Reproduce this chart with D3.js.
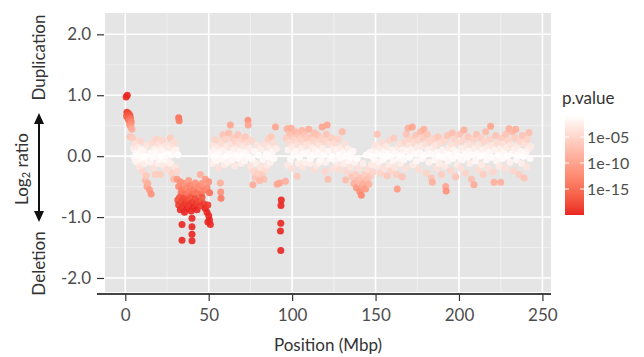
<!DOCTYPE html>
<html>
<head>
<meta charset="utf-8">
<script src="https://cdn.jsdelivr.net/npm/d3@7"></script>
<style>
  body { margin: 0; background: #fff; }
  text { font-family: Lato, "Open Sans", sans-serif; }
</style>
</head>
<body>
<div id="chart"></div>
<script>
// probes: [position (Mbp), log2 ratio, -log10 p.value]
var pArm = [
  [0.5, 0.97, 20], [1.2, 1.00, 20], [1.0, 0.72, 19], [2.0, 0.70, 18], [0.8, 0.66, 17],
  [2.8, 0.67, 17], [1.6, 0.62, 16], [3.2, 0.62, 15], [2.2, 0.58, 14], [3.6, 0.56, 13],
  [2.6, 0.52, 12], [3.4, 0.48, 11], [4.0, 0.44, 9], [3.0, 0.32, 7], [4.4, 0.30, 6]
];
var pArm2 = [
  [5, 0.12, 2.5], [5.5, -0.02, 1], [6, 0.20, 4], [6.2, -0.08, 1.6], [6.5, 0.05, 1.2], [7, -0.10, 2],
  [7.5, 0.15, 3], [8, 0.02, 0.9], [8.5, -0.18, 3.5], [9, 0.25, 5], [9.2, 0.12, 2.5], [9.5, 0.08, 1.6],
  [10, -0.05, 1.2], [10.5, -0.25, 5], [11, 0.10, 2], [11.2, -0.02, 0.9], [11.5, -0.12, 2.5], [12, 0.00, 0.8],
  [12, -0.40, 8], [12.5, -0.32, 6.5], [13, 0.18, 3.5], [13, -0.50, 10], [13.5, -0.45, 9], [14, -0.08, 1.6],
  [14.5, -0.55, 11], [15, 0.05, 1.2], [15.2, -0.10, 2], [15.5, -0.62, 12], [16, 0.22, 4.5], [16.5, -0.02, 0.9],
  [17, -0.20, 4], [17.5, 0.12, 2.5], [18, -0.30, 6], [18.2, 0.08, 1.6], [18.5, 0.28, 5.5], [19, 0.04, 1.1],
  [19.5, -0.12, 2.5], [20, 0.20, 4], [20.5, -0.05, 1.2], [21, -0.30, 6], [21.2, 0.14, 2.8], [21.5, 0.10, 2],
  [22, 0.00, 0.8], [22.5, 0.26, 5], [23, -0.15, 3], [23.5, 0.08, 1.6], [24, -0.06, 1.3], [24.2, 0.02, 0.9],
  [24.5, 0.18, 3.5], [25, -0.22, 4.5], [25.5, 0.04, 1.1], [26, 0.14, 2.8], [26.5, -0.10, 2], [27, 0.30, 6],
  [27.2, -0.12, 2.5], [27.5, 0.02, 0.9], [28, -0.28, 5.5], [28.5, 0.18, 3.5], [29, -0.38, 7.5], [29.2, 0.22, 4.5],
  [29.5, 0.08, 1.6], [30, -0.18, 3.5], [30.5, 0.10, 2], [31, -0.25, 5], [31.5, 0.02, 0.9],
  [32, 0.63, 15], [32.3, 0.58, 14]
];
var deletion = [
  [31, -0.38, 11], [32, -0.50, 13], [33, -0.42, 12], [33.5, -0.60, 15], [34, -0.55, 14], [35, -0.45, 12],
  [36, -0.62, 15], [37, -0.52, 13], [38, -0.40, 11], [38.5, -0.58, 14], [39, -0.48, 13], [40, -0.62, 15],
  [41, -0.55, 14], [42, -0.44, 12], [43, -0.60, 15], [44, -0.50, 13], [45, -0.30, 9], [45.5, -0.62, 15],
  [46, -0.45, 12], [47, -0.56, 14], [48, -0.38, 11], [49, -0.52, 13], [50, -0.42, 12], [50.5, -0.60, 15],
  [31.5, -0.72, 18], [32, -0.80, 19], [32.5, -0.68, 17], [33, -0.88, 20], [34, -0.74, 18], [34.5, -0.82, 19],
  [35, -0.70, 18], [35.5, -0.92, 20], [36, -0.78, 19], [37, -0.86, 20], [37.5, -0.72, 18], [38, -0.80, 19],
  [39, -0.68, 17], [39.5, -0.90, 20], [40, -0.76, 19], [41, -0.84, 20], [42, -0.70, 18], [42.5, -0.78, 19],
  [43, -0.88, 20], [44, -0.74, 18], [45, -0.82, 19], [46, -0.68, 17], [47, -0.78, 19], [48, -0.86, 20],
  [49, -0.92, 20], [49.5, -0.80, 19], [50, -0.98, 20], [50.5, -1.05, 20], [51, -1.12, 20], [49.5, -1.08, 20],
  [34, -1.12, 20], [34, -1.38, 20], [40, -1.02, 20], [40, -1.16, 20], [40, -1.28, 20], [40, -1.39, 20]
];
var qArm1 = [
  [51.5, 0.05, 1.2], [52, -0.12, 2.5], [52.5, 0.18, 3.5], [53, -0.02, 0.9], [53.5, 0.10, 2], [54, 0.27, 5.5],
  [54.5, -0.08, 1.6], [55, 0.02, 0.9], [55.5, 0.15, 3], [56, -0.20, 4], [56.5, 0.06, 1.3], [57, -0.44, 9],
  [57.2, -0.59, 12], [57.4, -0.69, 14], [57.5, 0.22, 4.5], [58, -0.05, 1.2], [58.5, 0.35, 7], [59, 0.10, 2],
  [59.5, -0.14, 2.8], [60, 0.28, 5.5], [60.5, 0.00, 0.8], [61, 0.16, 3], [61.5, -0.10, 2], [62, 0.38, 7.5],
  [62.5, 0.04, 1.1], [63, 0.51, 10], [63.5, 0.20, 4], [64, -0.06, 1.3], [64.5, 0.30, 6], [65, 0.10, 2],
  [65.5, -0.16, 3], [66, 0.24, 5], [66.5, 0.02, 0.9], [67, 0.14, 2.8], [67.5, 0.35, 7], [68, -0.04, 1.1],
  [68.5, 0.20, 4], [69, 0.08, 1.6], [69.5, -0.12, 2.5], [70, 0.28, 5.5], [70.5, 0.02, 0.9], [71, 0.16, 3],
  [71.5, -0.08, 1.6], [72, 0.32, 6.5], [72.5, 0.06, 1.3], [73, 0.22, 4.5], [73.5, 0.59, 12], [73.7, 0.51, 10],
  [74, -0.02, 0.9], [74.5, 0.12, 2.5], [75, -0.18, 3.5], [75.5, 0.26, 5], [76, -0.05, 1.2], [76.5, -0.47, 9.5],
  [77, -0.25, 5], [77.5, 0.08, 1.6], [78, -0.35, 7], [78.5, -0.12, 2.5], [79, 0.18, 3.5], [79.5, -0.28, 5.5],
  [80, 0.02, 0.9], [80.5, -0.40, 8], [81, -0.18, 3.5], [81.5, 0.12, 2.5], [82, -0.30, 6], [82.5, -0.06, 1.3],
  [83, -0.38, 7.5], [83.5, 0.20, 4], [84, -0.22, 4.5], [84.5, 0.04, 1.1], [85, -0.15, 3], [85.5, 0.28, 5.5],
  [86, -0.02, 0.9], [86.5, 0.14, 2.8], [87, -0.10, 2], [87.5, 0.32, 6.5], [88, 0.06, 1.3], [88.5, 0.22, 4.5],
  [89, -0.04, 1.1], [90, 0.48, 10], [90.5, 0.12, 2.5], [91, -0.46, 10], [92.5, -0.44, 10], [96, -0.41, 9]
];
var centromere = [
  [93.5, -0.72, 20], [93.3, -0.81, 20], [93.2, -1.10, 20], [93.0, -1.23, 20], [93.2, -1.55, 20]
];
var qArm2 = [
  [96.5, 0.30, 6], [97, 0.45, 9], [97.2, -0.15, 3], [97.5, 0.10, 2], [98, 0.22, 4.5], [98.5, 0.38, 7.5],
  [99, -0.05, 1.2], [99.5, 0.46, 9], [99.8, -0.20, 4], [100, 0.15, 3], [100.5, 0.32, 6.5], [101, 0.02, 0.9],
  [101.5, 0.26, 5], [102, 0.40, 8], [102.5, 0.08, 1.6], [103, -0.33, 6.5], [103.5, 0.20, 4], [103.8, -0.12, 2.5],
  [104, 0.35, 7], [104.5, -0.02, 0.9], [105, 0.28, 5.5], [105.5, 0.12, 2.5], [106, 0.42, 8.5], [106.2, -0.18, 3.5],
  [106.5, 0.04, 1.1], [107, 0.24, 5], [107.5, 0.36, 7], [108, -0.10, 2], [108.5, 0.18, 3.5], [109, 0.30, 6],
  [109.5, 0.06, 1.3], [110, 0.44, 9], [110.5, 0.20, 4], [110.8, -0.12, 2.5], [111, -0.04, 1.1], [111.5, 0.32, 6.5],
  [112, 0.14, 2.8], [112.5, 0.26, 5], [113, 0.02, 0.9], [113.2, -0.22, 4.5], [113.5, 0.38, 7.5], [114, 0.10, 2],
  [114.5, -0.15, 3], [115, 0.22, 4.5], [115.5, 0.34, 7], [116, 0.06, 1.3], [116.2, -0.10, 2], [116.5, 0.18, 3.5],
  [117, -0.06, 1.3], [117.5, 0.28, 5.5], [118, 0.48, 10], [118.5, 0.12, 2.5], [119, 0.02, 0.9], [119.5, 0.24, 5],
  [119.8, -0.25, 5], [120, -0.10, 2], [120.5, 0.36, 7], [121, 0.51, 10], [121.5, -0.38, 7.5], [122, 0.08, 1.6],
  [122.5, 0.20, 4], [123, -0.04, 1.1], [123.5, 0.30, 6], [124, 0.00, 0.8], [124.5, -0.20, 4], [125, 0.14, 2.8]
];
var qArm3 = [
  [125.5, 0.22, 4.5], [126, -0.08, 1.6], [126.5, 0.10, 2], [127, -0.15, 3], [127.5, 0.28, 5.5], [128, 0.02, 0.9],
  [128.5, -0.22, 4.5], [129, 0.14, 2.8], [129.5, -0.04, 1.1], [130, 0.40, 8], [130.5, 0.06, 1.3], [131, -0.12, 2.5],
  [131.5, 0.20, 4], [132, -0.39, 7.5], [132.5, 0.00, 0.8], [133, -0.26, 5], [133.5, 0.12, 2.5], [134, -0.08, 1.6],
  [134.5, 0.04, 1.1], [135, -0.18, 3.5], [135.5, -0.02, 0.9], [136, -0.34, 7], [136.5, 0.08, 1.6], [137, -0.45, 9],
  [137.5, -0.10, 2], [138, -0.30, 6], [138.5, -0.52, 11], [139, -0.04, 1.1], [139.5, -0.40, 8], [140, -0.20, 4],
  [140.5, -0.58, 12], [141, -0.36, 7], [141.5, -0.64, 13], [142, -0.48, 10], [142.5, -0.12, 2.5], [143, -0.44, 9],
  [143.5, -0.30, 6], [144, -0.54, 11], [144.5, 0.02, 0.9], [145, -0.38, 7.5], [145.5, -0.22, 4.5], [146, -0.46, 9],
  [146.5, 0.06, 1.3], [147, -0.32, 6.5], [147.5, -0.14, 2.8], [148, 0.00, 0.8], [148.5, -0.26, 5], [149, 0.10, 2],
  [149.5, -0.06, 1.3], [150, 0.18, 3.5], [150.5, -0.16, 3], [151, 0.36, 7], [151.5, 0.04, 1.1], [152, -0.10, 2],
  [152.5, 0.14, 2.8], [153, -0.28, 5.5], [153.5, 0.02, 0.9], [154, 0.22, 4.5], [154.5, -0.06, 1.3], [155, -0.20, 4],
  [155.5, 0.08, 1.6], [156, -0.02, 0.9], [156.5, 0.16, 3], [157, -0.32, 6.5], [157.5, 0.04, 1.1], [158, -0.14, 2.8],
  [158.5, 0.26, 5], [159, 0.00, 0.8], [159.5, -0.24, 5], [160, 0.10, 2], [160.5, -0.08, 1.6], [161, 0.30, 6],
  [161.5, -0.18, 3.5], [162, 0.06, 1.3], [162.5, -0.30, 6], [163, -0.54, 11], [163.5, 0.14, 2.8], [164, -0.04, 1.1],
  [164.5, 0.20, 4], [165, -0.12, 2.5], [165.5, 0.02, 0.9], [166, -0.34, 7], [166.5, 0.10, 2], [167, -0.06, 1.3],
  [167.5, 0.24, 5], [168, -0.20, 4]
];
var qArm4 = [
  [168.5, 0.36, 7], [169, 0.08, 1.6], [169.5, 0.46, 9], [170, 0.18, 3.5], [170.5, -0.02, 0.9], [171, 0.28, 5.5],
  [171.5, 0.10, 2], [172, 0.48, 10], [172.5, -0.14, 2.8], [173, 0.22, 4.5], [173.5, 0.04, 1.1], [174, 0.34, 7],
  [174.5, -0.08, 1.6], [175, 0.14, 2.8], [175.5, 0.26, 5], [176, -0.22, 4.5], [176.5, 0.06, 1.3], [177, 0.40, 8],
  [177.5, 0.16, 3], [178, -0.04, 1.1], [178.5, 0.30, 6], [179, 0.44, 9], [179.5, 0.02, 0.9], [180, 0.20, 4],
  [180.5, -0.28, 5.5], [181, 0.36, 7], [181.5, 0.10, 2], [182, -0.10, 2], [182.5, 0.24, 5], [183, 0.04, 1.1],
  [183.5, -0.36, 7], [184, -0.43, 9], [184.5, 0.14, 2.8], [185, 0.28, 5.5], [185.5, -0.06, 1.3], [186, 0.18, 3.5],
  [186.5, -0.20, 4], [187, 0.06, 1.3], [187.5, 0.32, 6.5], [188, -0.12, 2.5], [188.5, 0.00, 0.8], [189, 0.22, 4.5],
  [189.5, -0.30, 6], [190, 0.10, 2], [190.5, -0.02, 0.9], [191, 0.26, 5], [191.5, -0.16, 3], [192, -0.50, 10],
  [192.3, -0.57, 12], [192.5, 0.04, 1.1], [193, 0.34, 7], [193.5, -0.08, 1.6], [194, 0.14, 2.8], [194.5, 0.02, 0.9],
  [195, -0.24, 5], [195.5, 0.20, 4], [196, 0.38, 7.5], [196.5, -0.04, 1.1], [197, 0.10, 2], [197.5, 0.28, 5.5],
  [198, -0.34, 7], [198.5, 0.06, 1.3], [199, -0.14, 2.8], [199.5, 0.22, 4.5], [200, 0.00, 0.8], [200.5, 0.36, 7],
  [201, -0.20, 4], [201.5, 0.12, 2.5], [202, -0.06, 1.3], [202.5, 0.26, 5], [203, 0.43, 9], [203.5, 0.04, 1.1],
  [204, -0.28, 5.5], [204.5, 0.16, 3], [205, -0.02, 0.9], [205.5, 0.32, 6.5], [206, 0.08, 1.6], [206.5, -0.12, 2.5],
  [207, 0.20, 4], [207.5, -0.38, 7.5], [208, 0.02, 0.9], [208.5, 0.28, 5.5], [209, -0.47, 9.5], [209.5, 0.12, 2.5],
  [210, -0.08, 1.6], [210.5, 0.36, 7], [211, 0.04, 1.1], [211.5, -0.22, 4.5], [212, 0.18, 3.5], [212.5, 0.00, 0.8],
  [213, 0.30, 6], [213.5, -0.14, 2.8], [214, 0.10, 2], [214.5, -0.30, 6], [215, 0.24, 5], [215.5, 0.02, 0.9],
  [216, 0.40, 8], [216.5, -0.06, 1.3], [217, 0.14, 2.8], [217.5, -0.20, 4], [218, 0.06, 1.3], [218.5, 0.28, 5.5],
  [219, 0.49, 10], [219.5, -0.02, 0.9], [220, 0.18, 3.5], [220.5, -0.26, 5], [221, -0.43, 9], [221.5, 0.10, 2],
  [222, 0.34, 7], [222.5, -0.08, 1.6], [223, 0.22, 4.5], [223.5, 0.02, 0.9], [224, -0.16, 3], [224.5, 0.12, 2.5],
  [225, -0.43, 9], [225.5, 0.30, 6], [226, -0.04, 1.1], [226.5, 0.20, 4], [227, 0.06, 1.3], [227.5, -0.20, 4],
  [228, 0.36, 7], [228.5, 0.14, 2.8], [229, 0.00, 0.8], [229.5, 0.26, 5], [230, 0.45, 9], [230.5, -0.10, 2],
  [231, 0.18, 3.5], [231.5, 0.04, 1.1], [232, 0.40, 8], [232.5, -0.24, 5], [233, 0.10, 2], [233.5, 0.30, 6],
  [234, 0.44, 9], [234.5, -0.06, 1.3], [235, 0.16, 3], [235.5, 0.02, 0.9], [236, -0.30, 6], [236.5, 0.24, 5],
  [237, 0.08, 1.6], [237.5, -0.12, 2.5], [238, 0.34, 7], [238.5, 0.00, 0.8], [239, -0.36, 7], [239.5, 0.20, 4],
  [240, 0.06, 1.3], [240.5, -0.18, 3.5], [241, 0.28, 5.5], [241.5, 0.12, 2.5], [242, 0.39, 7.5], [242.5, -0.04, 1.1],
  [243, 0.16, 3]
];

var xTicks = [0, 50, 100, 150, 200, 250];
var xMinor = [25, 75, 125, 175, 225];
var yTicks = [-2, -1, 0, 1, 2];
var yMinor = [-1.5, -0.5, 0.5, 1.5];
var legendBreaks = [-5, -10, -15];
var legendLabels = ["1e-05", "1e-10", "1e-15"];

var probes = [].concat(pArm, pArm2, deletion, qArm1, centromere, qArm2, qArm3, qArm4);

var panel = { left: 105, right: 551, top: 13, bottom: 292 };

var x = d3.scaleLinear().domain([-12.15, 255.15]).range([panel.left, panel.right]);
var y = d3.scaleLinear().domain([-2.23, 2.35]).range([panel.bottom, panel.top]);
var pScale = d3.scaleLinear().domain([-20, -0.77]).range([215, 115]);
var color = d3.scaleLinear()
    .domain([-20, -0.77])
    .range(["#ea2521", "#ffffff"])
    .interpolate(d3.interpolateLab)
    .clamp(true);

var svg = d3.select("#chart").append("svg")
    .attr("width", 644)
    .attr("height", 357);

// panel
svg.append("rect")
    .attr("x", panel.left)
    .attr("y", panel.top)
    .attr("width", panel.right - panel.left)
    .attr("height", panel.bottom - panel.top)
    .attr("fill", "#e5e5e5");

svg.selectAll(".xminor").data(xMinor).enter().append("line")
    .attr("x1", function(d) { return x(d); }).attr("x2", function(d) { return x(d); })
    .attr("y1", panel.top).attr("y2", panel.bottom)
    .attr("stroke", "#f2f2f2").attr("stroke-width", 0.8);
svg.selectAll(".yminor").data(yMinor).enter().append("line")
    .attr("y1", function(d) { return y(d); }).attr("y2", function(d) { return y(d); })
    .attr("x1", panel.left).attr("x2", panel.right)
    .attr("stroke", "#f2f2f2").attr("stroke-width", 0.8);
svg.selectAll(".xmajor").data(xTicks).enter().append("line")
    .attr("x1", function(d) { return x(d); }).attr("x2", function(d) { return x(d); })
    .attr("y1", panel.top).attr("y2", panel.bottom)
    .attr("stroke", "#fff").attr("stroke-width", 1.6);
svg.selectAll(".ymajor").data(yTicks).enter().append("line")
    .attr("y1", function(d) { return y(d); }).attr("y2", function(d) { return y(d); })
    .attr("x1", panel.left).attr("x2", panel.right)
    .attr("stroke", "#fff").attr("stroke-width", 1.6);

// points
svg.append("g").selectAll("circle")
    .data(probes)
    .enter()
    .append("circle")
    .attr("cx", function(d) { return x(d[0]); })
    .attr("cy", function(d) { return y(d[1]); })
    .attr("r", 3.5)
    .attr("fill", function(d) { return color(-d[2]); })
    .attr("fill-opacity", 0.9);

// axes
var yAxis = d3.axisLeft(y)
    .tickValues(yTicks)
    .tickSize(7)
    .tickPadding(6)
    .tickFormat(function(d) { return d.toFixed(1); });
var gy = svg.append("g")
    .attr("transform", "translate(" + (panel.left - 1) + ",0)")
    .call(yAxis);
gy.select(".domain").remove();
gy.selectAll("line").attr("stroke", "#333").attr("stroke-width", 1.2);
gy.selectAll("text")
    .style("font-size", "17px")
    .attr("fill", "#4d4d4d");

svg.append("line")
    .attr("x1", 97).attr("x2", panel.right)
    .attr("y1", 294).attr("y2", 294)
    .attr("stroke", "#444").attr("stroke-width", 1.8);

var xAxis = d3.axisBottom(x)
    .tickValues(xTicks)
    .tickSize(7)
    .tickPadding(8)
    .tickFormat(d3.format("d"));
var gx = svg.append("g")
    .attr("transform", "translate(0,294)")
    .call(xAxis);
gx.select(".domain").remove();
gx.selectAll("line").attr("stroke", "#333").attr("stroke-width", 1.2);
gx.selectAll("text")
    .style("font-size", "17px")
    .attr("fill", "#4d4d4d");

svg.append("text")
    .attr("x", (panel.left + panel.right) / 2)
    .attr("y", 351)
    .attr("text-anchor", "middle")
    .style("font-size", "17px")
    .attr("fill", "#333")
    .text("Position (Mbp)");

// left side labels
svg.append("text")
    .attr("transform", "translate(38,57.5) rotate(-90)")
    .attr("text-anchor", "middle")
    .attr("dominant-baseline", "central")
    .style("font-size", "17px")
    .attr("fill", "#333")
    .text("Duplication");

svg.append("text")
    .attr("transform", "translate(38,263.5) rotate(-90)")
    .attr("text-anchor", "middle")
    .attr("dominant-baseline", "central")
    .style("font-size", "17px")
    .attr("fill", "#333")
    .text("Deletion");

var ylab = svg.append("text")
    .attr("transform", "translate(21,169) rotate(-90)")
    .attr("text-anchor", "middle")
    .attr("dominant-baseline", "central")
    .style("font-size", "17px")
    .attr("fill", "#333");
ylab.append("tspan").text("Log");
ylab.append("tspan").attr("dy", 4).style("font-size", "11px").text("2");
ylab.append("tspan").attr("dy", -4).text(" ratio");

svg.append("line")
    .attr("x1", 39).attr("x2", 39)
    .attr("y1", 120).attr("y2", 215)
    .attr("stroke", "#111").attr("stroke-width", 2);
svg.append("path")
    .attr("d", "M39,113 L34,124 L44,124 Z M39,222 L34,211 L44,211 Z")
    .attr("fill", "#111");

// legend
svg.append("text")
    .attr("x", 562)
    .attr("y", 104)
    .style("font-size", "17px")
    .attr("fill", "#333")
    .text("p.value");

var grad = svg.append("defs").append("linearGradient")
    .attr("id", "pgrad")
    .attr("x1", 0).attr("y1", 1).attr("x2", 0).attr("y2", 0);
d3.range(0, 1.0001, 0.05).forEach(function(t) {
    var v = -20 + t * (20 - 0.77);
    grad.append("stop").attr("offset", t).attr("stop-color", color(v));
});

svg.append("rect")
    .attr("x", 565)
    .attr("y", pScale(-0.77))
    .attr("width", 19)
    .attr("height", pScale(-20) - pScale(-0.77))
    .attr("fill", "url(#pgrad)");

svg.selectAll(".ltickl").data(legendBreaks).enter().append("line")
    .attr("x1", 565).attr("x2", 569)
    .attr("y1", function(d) { return pScale(d); }).attr("y2", function(d) { return pScale(d); })
    .attr("stroke", "#fff").attr("stroke-width", 1);
svg.selectAll(".ltickr").data(legendBreaks).enter().append("line")
    .attr("x1", 580).attr("x2", 584)
    .attr("y1", function(d) { return pScale(d); }).attr("y2", function(d) { return pScale(d); })
    .attr("stroke", "#fff").attr("stroke-width", 1);
svg.selectAll(".llab").data(legendBreaks).enter().append("text")
    .attr("x", 587)
    .attr("y", function(d) { return pScale(d); })
    .attr("dominant-baseline", "central")
    .style("font-size", "16px")
    .attr("fill", "#4d4d4d")
    .text(function(d, i) { return legendLabels[i]; });
</script>
</body>
</html>
